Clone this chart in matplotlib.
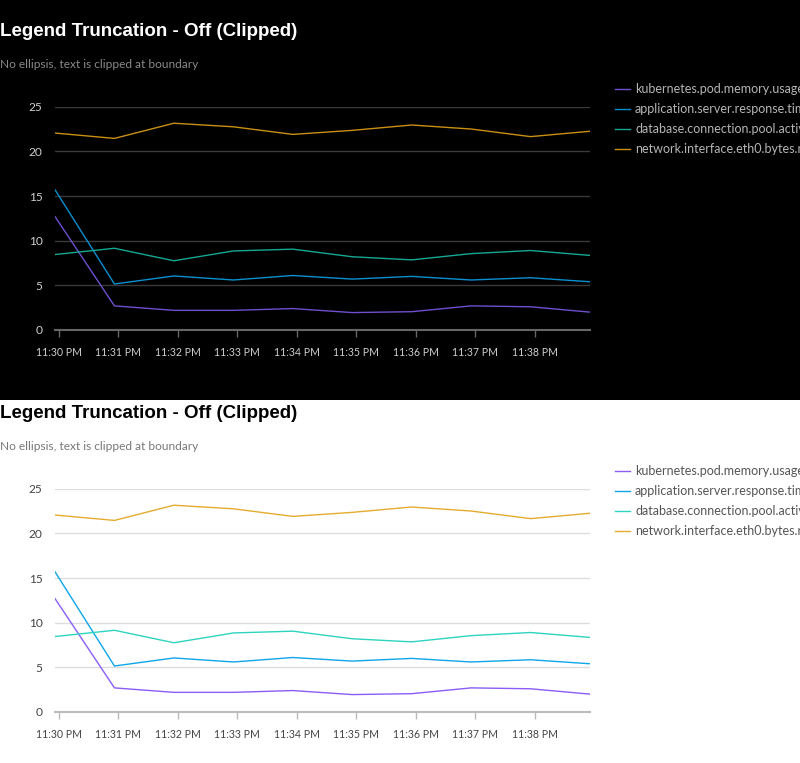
import matplotlib
matplotlib.use("Agg")
import matplotlib.pyplot as plt
import matplotlib.dates as mdates
from matplotlib.patches import Rectangle
import pandas as pd

# data (one sample per minute)
times = ["23:29:56", "23:30:56", "23:31:56", "23:32:56", "23:33:56",
         "23:34:56", "23:35:56", "23:36:56", "23:37:56", "23:38:56"]
tick_times = ["23:30", "23:31", "23:32", "23:33", "23:34",
              "23:35", "23:36", "23:37", "23:38"]
series_names = ["kubernetes.pod.memory.usage.bytes",
                "application.server.response.time.p99",
                "database.connection.pool.active",
                "network.interface.eth0.bytes.received"]
memory_usage = [12.7, 2.7, 2.2, 2.2, 2.4, 1.95, 2.05, 2.7, 2.6, 2.0]
response_time = [15.7, 5.15, 6.05, 5.6, 6.1, 5.7, 6.0, 5.6, 5.85, 5.4]
pool_active = [8.45, 9.15, 7.75, 8.85, 9.05, 8.2, 7.85, 8.55, 8.9, 8.35]
bytes_received = [22.05, 21.45, 23.15, 22.75, 21.9, 22.35, 22.95, 22.5, 21.65, 22.25]
values = [memory_usage, response_time, pool_active, bytes_received]

x = pd.to_datetime(["2024-01-01 " + t for t in times])
xt = pd.to_datetime(["2024-01-01 " + t for t in tick_times])

W, H = 800, 763
fig = plt.figure(figsize=(W / 100, H / 100), dpi=100, facecolor="white")

# black backdrop for the dark version, kept behind the axes
fig.patches.append(Rectangle((0, 1 - 400 / H), 1, 400 / H, transform=fig.transFigure,
                             facecolor="black", edgecolor="none", zorder=-10))

themes = [
    dict(off=0, title="white", sub="#8a8a8a", tick="#cfcfcf", legend="#b5b5b5",
         grid="#3a3a3a", axis="#666666",
         colors=["#6f4fcf", "#0a8fd0", "#14a892", "#c98f14"]),
    dict(off=382, title="black", sub="#777777", tick="#444444", legend="#555555",
         grid="#dddddd", axis="#bbbbbb",
         colors=["#8b5cf6", "#0ea5e9", "#2dd4bf", "#e5ab2e"]),
]

for th in themes:
    off = th["off"]
    top, bottom = 106.7 + off, 330 + off
    ax = fig.add_axes([55 / W, 1 - bottom / H, 535 / W, (bottom - top) / H])
    ax.set_facecolor("none")

    for name, vals, c in zip(series_names, values, th["colors"]):
        ax.plot(x, vals, color=c, lw=1.0, label=name)

    ax.set_xlim(x[0], x[-1])
    ax.set_ylim(0, 25)
    ax.set_yticks([0, 5, 10, 15, 20, 25])
    ax.set_xticks(xt)
    ax.xaxis.set_major_formatter(mdates.DateFormatter("%I:%M %p"))
    ax.grid(axis="y", color=th["grid"], lw=1.0)
    ax.set_axisbelow(True)
    for s in ["top", "right", "left"]:
        ax.spines[s].set_visible(False)
    ax.spines["bottom"].set_color(th["axis"])
    ax.spines["bottom"].set_linewidth(1.5)
    ax.tick_params(axis="y", length=0, pad=9, labelsize=8.6, labelcolor=th["tick"])
    ax.tick_params(axis="x", length=5, width=1, color=th["axis"], pad=7,
                   labelsize=7.6, labelcolor=th["tick"])
    for lab in ax.get_xticklabels() + ax.get_yticklabels():
        lab.set_fontfamily("Lato")

    fig.text(0, 1 - (31 + off) / H, "Legend Truncation - Off (Clipped)", ha="left", va="center",
             fontsize=13.5, fontweight="bold", color=th["title"], family="Liberation Sans")
    fig.text(0, 1 - (64 + off) / H, "No ellipsis, text is clipped at boundary", ha="left",
             va="center", fontsize=8.6, color=th["sub"], family="Lato")

    leg = ax.legend(loc="upper left", bbox_to_anchor=(615 / W, 1 - (83 + off) / H),
                    bbox_transform=fig.transFigure, frameon=False, borderpad=0,
                    borderaxespad=0, handlelength=1.2, handletextpad=0.4,
                    labelspacing=0.64, prop={"family": "Lato", "size": 9})
    for t in leg.get_texts():
        t.set_color(th["legend"])

fig.savefig("out.png", dpi=100, facecolor="white")
